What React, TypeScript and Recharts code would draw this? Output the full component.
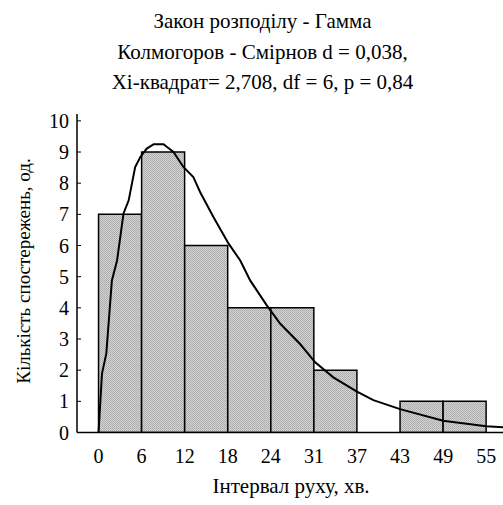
import React from "react";
import {
  BarChart,
  ComposedChart,
  Bar,
  Line,
  XAxis,
  YAxis,
} from "recharts";

// interval edges (minutes) and observed counts per interval
const edgeLabels = ["0", "6", "12", "18", "24", "31", "37", "43", "49", "55"];
const counts = [7, 9, 6, 4, 4, 2, 0, 1, 1];

// fitted gamma curve (x in interval units)
const fitX = [
  0, 0.08, 0.18, 0.31, 0.43, 0.58, 0.7, 0.85, 0.97, 1.12, 1.28, 1.51, 1.59,
  1.74, 1.97, 2.2, 2.36, 2.67, 3.02, 3.29, 3.52, 3.91, 4.22, 4.68, 5.03, 5.45,
  6.0, 6.38, 7.0, 8.0, 9.0, 9.39,
];
const fitY = [
  0, 1.89, 2.53, 4.88, 5.52, 7.03, 7.45, 8.52, 8.84, 9.11, 9.25, 9.25, 9.16,
  9.0, 8.52, 8.2, 7.71, 6.91, 6.06, 5.52, 4.88, 4.07, 3.49, 2.84, 2.25, 1.77,
  1.31, 1.04, 0.75, 0.38, 0.2, 0.17,
];

const yTicks = [0, 1, 2, 3, 4, 5, 6, 7, 8, 9, 10];

const barData = counts.map((c, i) => ({
  bin: `${edgeLabels[i]}-${edgeLabels[i + 1]}`,
  count: c,
}));
const fitData = fitX.map((x, i) => ({ x, fit: fitY[i] }));
const edgeTicks = edgeLabels.map((_, i) => i);

const FONT = "'Liberation Serif', 'DejaVu Serif', serif";
const W = 503;
const H = 505;
const PLOT_LEFT = 77;
const PLOT_TOP = 114;
const PLOT_BOTTOM = 432.5;
const xDomain = [-0.5, 9.39];
const yDomain = [0, 10.22];
const binPx = (W - PLOT_LEFT) / (xDomain[1] - xDomain[0]);

const textStyle: React.CSSProperties = {
  position: "absolute",
  left: 0,
  width: 525,
  textAlign: "center",
  fontFamily: FONT,
  fontSize: 21,
  color: "#000",
  whiteSpace: "nowrap",
  lineHeight: "24px",
};

const layer: React.CSSProperties = { position: "absolute", left: 0, top: 0 };

export default function App() {
  return (
    <div
      style={{
        position: "absolute",
        left: 0,
        top: 0,
        width: W,
        height: H,
        overflow: "hidden",
        background: "#fff",
      }}
    >
      <div style={{ ...textStyle, top: 9 }}>Закон розподілу - Гамма</div>
      <div style={{ ...textStyle, top: 40 }}>Колмогоров - Смірнов d = 0,038,</div>
      <div style={{ ...textStyle, top: 70 }}>Хі-квадрат= 2,708, df = 6, p = 0,84</div>
      <div
        style={{
          ...textStyle,
          fontSize: 19,
          width: 300,
          left: 24 - 150,
          top: 271 - 12,
          transform: "rotate(-90deg)",
        }}
      >
        Кількість спостережень, од.
      </div>
      <div style={{ ...textStyle, width: 300, left: 291 - 150, top: 474 }}>
        Інтервал руху, хв.
      </div>

      {/* histogram bars on a band axis */}
      <div style={layer}>
        <BarChart
          width={W}
          height={H}
          data={barData}
          margin={{ top: PLOT_TOP, right: 0, bottom: H - PLOT_BOTTOM, left: PLOT_LEFT }}
          barCategoryGap={0}
          barGap={0}
        >
          <defs>
            <pattern id="hatch" width="2" height="2" patternUnits="userSpaceOnUse">
              <rect width="2" height="2" fill="#d2d2d2" />
              <rect x="0" y="0" width="1" height="1" fill="#a9a9a9" />
              <rect x="1" y="1" width="1" height="1" fill="#b4b4b4" />
            </pattern>
          </defs>
          <XAxis
            dataKey="bin"
            hide
            padding={{ left: binPx * 0.5, right: binPx * (xDomain[1] - 9) }}
          />
          <YAxis hide type="number" domain={yDomain} allowDataOverflow />
          <Bar
            dataKey="count"
            fill="url(#hatch)"
            stroke="#000"
            strokeWidth={1.5}
            isAnimationActive={false}
          />
        </BarChart>
      </div>

      {/* axes, frame and fitted curve */}
      <div style={{ ...layer, pointerEvents: "none" }}>
        <ComposedChart
          width={W}
          height={H}
          data={fitData}
          margin={{ top: PLOT_TOP, right: 0, bottom: H - PLOT_BOTTOM - 30, left: PLOT_LEFT - 60 }}
        >
          <XAxis
            xAxisId="top"
            orientation="top"
            dataKey="x"
            type="number"
            domain={xDomain}
            allowDataOverflow
            ticks={edgeTicks}
            tick={false}
            tickSize={-4}
            height={0}
            axisLine={{ stroke: "#000", strokeWidth: 1.5 }}
            tickLine={{ stroke: "#000", strokeWidth: 1 }}
          />
          <XAxis
            dataKey="x"
            type="number"
            domain={xDomain}
            allowDataOverflow
            ticks={edgeTicks}
            tickFormatter={(v: number) => edgeLabels[v] ?? ""}
            interval={0}
            tickLine={false}
            tickSize={6}
            tickMargin={10}
            height={30}
            axisLine={{ stroke: "#000", strokeWidth: 1.5 }}
            tick={{ fill: "#000", fontSize: 20, fontFamily: FONT }}
          />
          <YAxis
            type="number"
            domain={yDomain}
            allowDataOverflow
            ticks={yTicks}
            interval={0}
            width={60}
            tickSize={-4}
            tickMargin={12}
            axisLine={{ stroke: "#000", strokeWidth: 1.5 }}
            tickLine={{ stroke: "#000", strokeWidth: 1 }}
            tick={{ fill: "#000", fontSize: 20, fontFamily: FONT }}
          />
          <Line
            dataKey="fit"
            type="linear"
            stroke="#000"
            strokeWidth={2}
            dot={false}
            activeDot={false}
            isAnimationActive={false}
          />
        </ComposedChart>
      </div>
    </div>
  );
}
